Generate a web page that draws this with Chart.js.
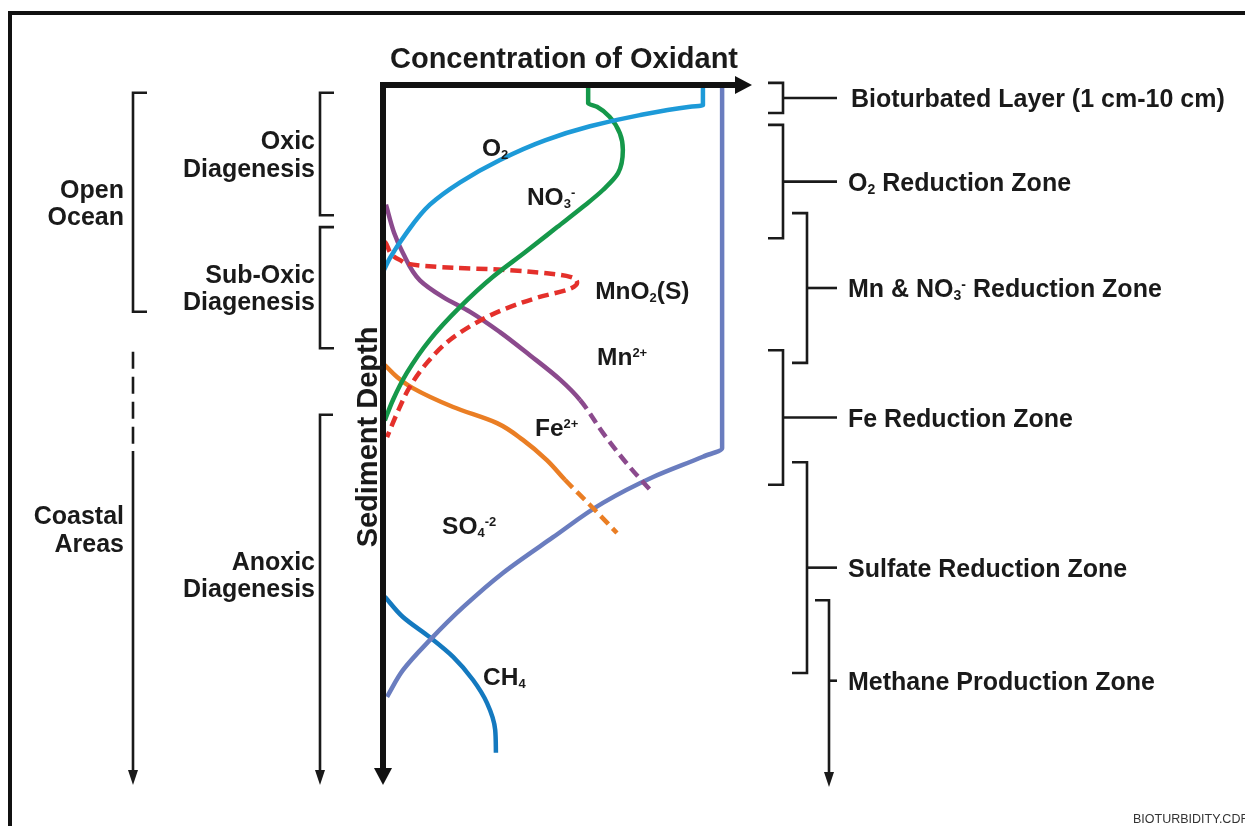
<!DOCTYPE html>
<html>
<head>
<meta charset="utf-8">
<script src="https://cdn.jsdelivr.net/npm/chart.js@4.4.0/dist/chart.umd.min.js"></script>
<style>
  html, body { margin: 0; padding: 0; background: #fff; }
  canvas { display: block; }
</style>
</head>
<body>
<canvas id="myChart" width="1245" height="826"></canvas>
<script>
// concentration (0-100, arbitrary) against sediment depth (0-100, arbitrary)
const o2Conc  = [86.7, 86.7, 83.2, 69.6, 56.1, 43.9, 31.7, 20.9, 12.7, 6.0, 1.9, 0.3];
const o2Depth = [0, 2.9, 3.1, 4.3, 5.9, 7.9, 10.7, 13.9, 17.1, 21.4, 24.7, 26.4];

const no3Conc  = [55.6, 55.6, 58.0, 61.5, 64.2, 65.0, 63.7, 59.6, 54.2, 47.2, 38.5, 29.8, 20.9, 12.7, 6.5, 2.7, 0.5];
const no3Depth = [0, 2.6, 3.1, 4.6, 6.9, 9.3, 12.6, 15.0, 17.4, 20.3, 23.9, 27.4, 31.7, 36.4, 41.1, 45.0, 47.9];

const mno2Conc  = [0.5, 4.6, 10.0, 19.0, 32.5, 44.4, 50.7, 52.6, 50.7, 41.7, 32.5, 25.5, 18.2, 11.9, 7.3, 3.8, 1.1];
const mno2Depth = [22.4, 25.0, 25.8, 26.1, 26.4, 26.9, 27.4, 28.3, 29.1, 30.4, 32.1, 33.9, 36.4, 39.7, 43.1, 46.9, 50.3];

const mn2Conc  = [0.8, 3.0, 5.4, 10.0, 16.3, 23.6, 31.7, 39.8, 48.0, 53.4, 59.6, 66.9, 73.2];
const mn2Depth = [17.1, 21.1, 24.0, 27.9, 30.3, 32.4, 35.3, 38.6, 42.1, 45.0, 49.7, 54.6, 58.3];
const mn2DashFrom = 9;   // estimated part of the profile

const feConc  = [0.5, 3.8, 8.1, 19.0, 30.9, 37.9, 44.4, 49.3, 56.1, 63.4];
const feDepth = [40.0, 41.7, 43.3, 46.0, 48.3, 50.7, 53.6, 56.4, 60.0, 64.0];
const feDashFrom = 7;

const so4Conc  = [91.9, 91.9, 86.7, 73.2, 59.6, 46.1, 32.5, 21.7, 12.7, 5.4, 1.1];
const so4Depth = [0, 51.9, 53.1, 56.0, 59.7, 64.6, 69.7, 74.6, 79.3, 83.6, 87.4];

const ch4Conc  = [0.5, 5.4, 12.7, 19.0, 24.4, 28.2, 30.4, 30.6];
const ch4Depth = [73.1, 76.0, 78.9, 81.7, 85.0, 88.3, 92.1, 95.4];

// zones (depth ranges)
const zoneNames  = ['Bioturbated Layer (1 cm-10 cm)', 'O{_2} Reduction Zone', 'Mn & NO{_3}{^-} Reduction Zone',
                    'Fe Reduction Zone', 'Sulfate Reduction Zone', 'Methane Production Zone'];
const zoneTop    = [-0.3, 5.7, 18.3, 37.9, 53.9, 73.6];
const zoneBottom = [4.0, 21.9, 39.7, 57.1, 84.0, 100.3];

const settingNames  = ['Open\nOcean', 'Coastal\nAreas'];
const settingTop    = [1.1, 38.1];
const settingBottom = [32.4, 100];

const diagNames  = ['Oxic\nDiagenesis', 'Sub-Oxic\nDiagenesis', 'Anoxic\nDiagenesis'];
const diagTop    = [1.1, 20.3, 47.1];
const diagBottom = [18.6, 37.6, 100];

const FONT = '"Liberation Sans", Arial, Helvetica, sans-serif';
const INK = '#1a1a1a';

function pts(conc, depth) {
    return conc.map((v, i) => ({ x: v, y: depth[i] }));
}

function richParts(str) {
    const parts = [];
    const re = /\{([_^])([^}]*)\}|([^{]+)/g;
    let m;
    while ((m = re.exec(str))) {
        if (m[3]) parts.push({ t: m[3], k: '' });
        else parts.push({ t: m[2], k: m[1] });
    }
    return parts;
}

// draws text with {_sub} / {^sup}; yc is the vertical centre of the capitals
function drawRich(c, str, x, yc, size, align) {
    const parts = richParts(str);
    const small = Math.round(size * 0.54);
    const fontFor = p => `bold ${p.k ? small : size}px ${FONT}`;
    let w = 0;
    parts.forEach(p => { c.font = fontFor(p); p.w = c.measureText(p.t).width; w += p.w; });
    let cx = align === 'right' ? x - w : align === 'center' ? x - w / 2 : x;
    const base = yc + size * 0.36;
    c.textAlign = 'left';
    c.textBaseline = 'alphabetic';
    parts.forEach(p => {
        c.font = fontFor(p);
        const dy = p.k === '_' ? size * 0.12 : p.k === '^' ? -size * 0.33 : 0;
        c.fillText(p.t, cx, base + dy);
        cx += p.w;
    });
}

function line(c, x0, y0, x1, y1) {
    c.beginPath();
    c.moveTo(x0, y0);
    c.lineTo(x1, y1);
    c.stroke();
}

function arrowDown(c, x, tipY) {
    c.beginPath();
    c.moveTo(x - 5, tipY - 15);
    c.lineTo(x + 5, tipY - 15);
    c.lineTo(x, tipY);
    c.closePath();
    c.fill();
}

const diagram = {
    id: 'diagram',
    beforeDraw(chart) {
        const c = chart.ctx;
        c.save();
        c.fillStyle = '#fff';
        c.fillRect(0, 0, chart.width, chart.height);
        c.fillStyle = '#111';
        c.fillRect(8, 11, chart.width - 8, 4);
        c.fillRect(8, 11, 4, chart.height - 11);
        c.restore();
    },
    afterDatasetsDraw(chart) {
        const c = chart.ctx;
        const { left, top, right, bottom } = chart.chartArea;
        const xs = chart.scales.x;
        const ys = chart.scales.y;
        c.save();

        // axes with arrows
        c.fillStyle = '#111';
        c.fillRect(left - 3, top - 3, right - 15 - (left - 3), 6);
        c.beginPath();
        c.moveTo(right - 17, top - 9);
        c.lineTo(right - 17, top + 9);
        c.lineTo(right, top);
        c.closePath();
        c.fill();
        c.fillRect(left - 3, top - 3, 6, bottom - 15 - (top - 3));
        c.beginPath();
        c.moveTo(left - 9, bottom - 17);
        c.lineTo(left + 9, bottom - 17);
        c.lineTo(left, bottom);
        c.closePath();
        c.fill();

        c.fillStyle = INK;
        c.font = `bold 29px ${FONT}`;
        c.textAlign = 'center';
        c.textBaseline = 'alphabetic';
        c.fillText('Concentration of Oxidant', 564, 68);

        c.save();
        c.translate(377, 437);
        c.rotate(-Math.PI / 2);
        c.fillText('Sediment Depth', 0, 0);
        c.restore();

        // series labels
        chart.data.datasets.forEach(ds => {
            drawRich(c, ds.tag, xs.getPixelForValue(ds.tagAt[0]), ys.getPixelForValue(ds.tagAt[1]), 24.5, 'left');
        });

        // right-hand zone brackets
        c.strokeStyle = INK;
        c.lineWidth = 2.6;
        const armX = [768, 768, 792, 768, 792];
        zoneNames.forEach((name, i) => {
            const y0 = ys.getPixelForValue(zoneTop[i]);
            const y1 = ys.getPixelForValue(zoneBottom[i]);
            let ym;
            if (i < 5) {
                const xa = armX[i], xv = xa + 15;
                c.beginPath();
                c.moveTo(xa, y0); c.lineTo(xv, y0); c.lineTo(xv, y1); c.lineTo(xa, y1);
                c.stroke();
                ym = (y0 + y1) / 2;
                line(c, xv, ym, 837, ym);
            } else {
                const xv = 829;
                c.beginPath();
                c.moveTo(815, y0); c.lineTo(xv, y0); c.lineTo(xv, y1 - 12);
                c.stroke();
                arrowDown(c, xv, y1);
                ym = ys.getPixelForValue(85.1);
                line(c, xv, ym, 837, ym);
            }
            drawRich(c, name, i === 0 ? 851 : 848, ym, 25, 'left');
        });

        // left-hand brackets
        const leftGroup = (names, tops, bots, xv, textRight, labelDepth, dashTo) => {
            names.forEach((name, i) => {
                const y0 = ys.getPixelForValue(tops[i]);
                const y1 = ys.getPixelForValue(bots[i]);
                let ym = (y0 + y1) / 2;
                if (bots[i] >= 100) {
                    if (dashTo) {
                        const yd = ys.getPixelForValue(dashTo);
                        c.setLineDash([17, 8]);
                        line(c, xv, y0, xv, yd);
                        c.setLineDash([]);
                        line(c, xv, yd + 4, xv, y1 - 12);
                    } else {
                        c.beginPath();
                        c.moveTo(xv + 13, y0); c.lineTo(xv, y0); c.lineTo(xv, y1 - 12);
                        c.stroke();
                    }
                    arrowDown(c, xv, y1);
                    ym = ys.getPixelForValue(labelDepth);
                } else {
                    c.beginPath();
                    c.moveTo(xv + 14, y0); c.lineTo(xv, y0); c.lineTo(xv, y1); c.lineTo(xv + 14, y1);
                    c.stroke();
                }
                const lines = name.split('\n');
                lines.forEach((t, k) => {
                    drawRich(c, t, textRight, ym + (k - (lines.length - 1) / 2) * 27.5, 25, 'right');
                });
            });
        };
        leftGroup(settingNames, settingTop, settingBottom, 133, 124, 63.4, 51.7);
        leftGroup(diagNames, diagTop, diagBottom, 320, 315, 69.9, null);

        c.fillStyle = '#333';
        c.font = `12.5px ${FONT}`;
        c.textAlign = 'left';
        c.fillText('BIOTURBIDITY.CDR', 1133, 823);
        c.restore();
    }
};

const ctx = document.getElementById('myChart').getContext('2d');

const chart = new Chart(ctx, {
    type: 'line',
    data: {
        datasets: [
            { label: 'O2', tag: 'O{_2}', tagAt: [26.8, 8.9], data: pts(o2Conc, o2Depth), borderColor: '#1d9ad8' },
            { label: 'NO3-', tag: 'NO{_3}{^-}', tagAt: [39.0, 15.9], data: pts(no3Conc, no3Depth), borderColor: '#15984a' },
            { label: 'MnO2(S)', tag: 'MnO{_2}(S)', tagAt: [57.5, 29.3], data: pts(mno2Conc, mno2Depth), borderColor: '#e4302b', borderDash: [11, 6] },
            {
                label: 'Mn2+', tag: 'Mn{^2+}', tagAt: [58.0, 38.7], data: pts(mn2Conc, mn2Depth), borderColor: '#8b4a8d',
                segment: { borderDash: s => s.p0DataIndex >= mn2DashFrom ? [11, 6] : undefined }
            },
            {
                label: 'Fe2+', tag: 'Fe{^2+}', tagAt: [41.2, 48.9], data: pts(feConc, feDepth), borderColor: '#ea7e24',
                segment: { borderDash: s => s.p0DataIndex >= feDashFrom ? [11, 6] : undefined }
            },
            { label: 'SO4-2', tag: 'SO{_4}{^-2}', tagAt: [16.0, 62.9], data: pts(so4Conc, so4Depth), borderColor: '#6a7dbf' },
            { label: 'CH4', tag: 'CH{_4}', tagAt: [27.1, 84.4], data: pts(ch4Conc, ch4Depth), borderColor: '#1479bf' }
        ]
    },
    options: {
        responsive: false,
        animation: false,
        indexAxis: 'y',
        layout: { padding: { left: 383, top: 85, right: 493, bottom: 41 } },
        scales: {
            x: { type: 'linear', min: 0, max: 100, display: false },
            y: { type: 'linear', min: 0, max: 100, reverse: true, display: false }
        },
        plugins: { legend: { display: false }, tooltip: { enabled: false } },
        elements: {
            point: { radius: 0, hoverRadius: 0 },
            line: { borderWidth: 4.5, cubicInterpolationMode: 'monotone', fill: false }
        },
        datasets: { line: { clip: false } }
    },
    plugins: [diagram]
});
</script>
</body>
</html>
